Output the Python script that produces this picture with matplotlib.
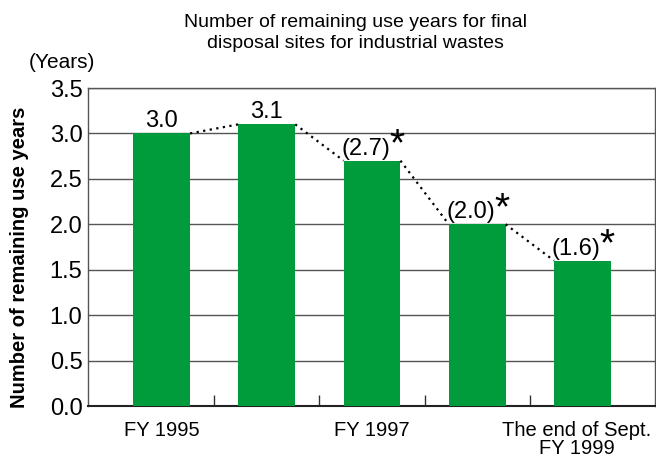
import matplotlib.pyplot as plt

plt.rcParams['font.family'] = ['Liberation Sans', 'DejaVu Sans']

# data
years = ["FY 1995", "", "FY 1997", "", "The end of Sept.\nFY 1999"]
values = [3.0, 3.1, 2.7, 2.0, 1.6]
labels = ["3.0", "3.1", "(2.7)", "(2.0)", "(1.6)"]
estimated = [False, False, True, True, True]

BAR_COLOR = '#009c3b'
BAR_W = 0.54

fig = plt.figure(figsize=(6.56, 4.61), dpi=100)
ax = fig.add_axes([88 / 656, 1 - 406 / 461, 567 / 656, 318 / 461])

xs = list(range(len(values)))
ax.bar(xs, values, width=BAR_W, color=BAR_COLOR, zorder=3)

# dotted connectors between bar tops
for i in range(len(values) - 1):
    ax.plot([i + BAR_W / 2, i + 1 - BAR_W / 2], [values[i], values[i + 1]],
            color='black', linestyle=(0, (1, 2)), linewidth=1.6, zorder=4)

# value labels, estimates marked with an asterisk
for i, v in enumerate(values):
    dx = -6 if estimated[i] else 0
    ax.annotate(labels[i], xy=(i, v), xytext=(dx, 6), textcoords='offset pixels',
                ha='center', va='baseline', fontsize=17, zorder=5)
    if estimated[i]:
        ax.annotate("*", xy=(i, v), xytext=(17, 5), textcoords='offset pixels',
                    ha='left', va='baseline', fontsize=28, zorder=5)

ax.set_xlim(-0.70, 4.69)
ax.set_ylim(0, 3.5)
ax.set_yticks([0, 0.5, 1.0, 1.5, 2.0, 2.5, 3.0, 3.5])
ax.set_yticklabels(["%.1f" % t for t in ax.get_yticks()], fontsize=17)
ax.yaxis.grid(True, color='#555555', linewidth=1.0, zorder=0)
ax.set_axisbelow(True)
ax.tick_params(axis='y', length=0, pad=4)

ax.set_xticks([0.5, 1.5, 2.5, 3.5])
ax.set_xticklabels([])
ax.tick_params(axis='x', direction='in', length=8, width=1.0, color='#333333')

for s in ax.spines.values():
    s.set_color('#555555')
    s.set_linewidth(1.0)
ax.spines['bottom'].set_color('#222222')
ax.spines['bottom'].set_linewidth(1.5)

# category labels below
for i, name in enumerate(years):
    if name:
        dx = -6 if "\n" in name else 0
        ax.annotate(name, xy=(i, 0), xytext=(dx, -15), textcoords='offset pixels',
                    ha='center', va='top', fontsize=14.5, linespacing=0.95,
                    annotation_clip=False)

fig.text(20 / 656, 1 - 257 / 461, "Number of remaining use years", rotation=90,
         ha='center', va='center', fontsize=14.5, fontweight='bold')
fig.text(62 / 656, 1 - 62 / 461, "(Years)", ha='center', va='center', fontsize=15)
fig.text(355 / 656, 1 - 33 / 461,
         "Number of remaining use years for final\ndisposal sites for industrial wastes",
         ha='center', va='center', fontsize=14, linespacing=1.25)

fig.savefig("out.png", dpi=100)
